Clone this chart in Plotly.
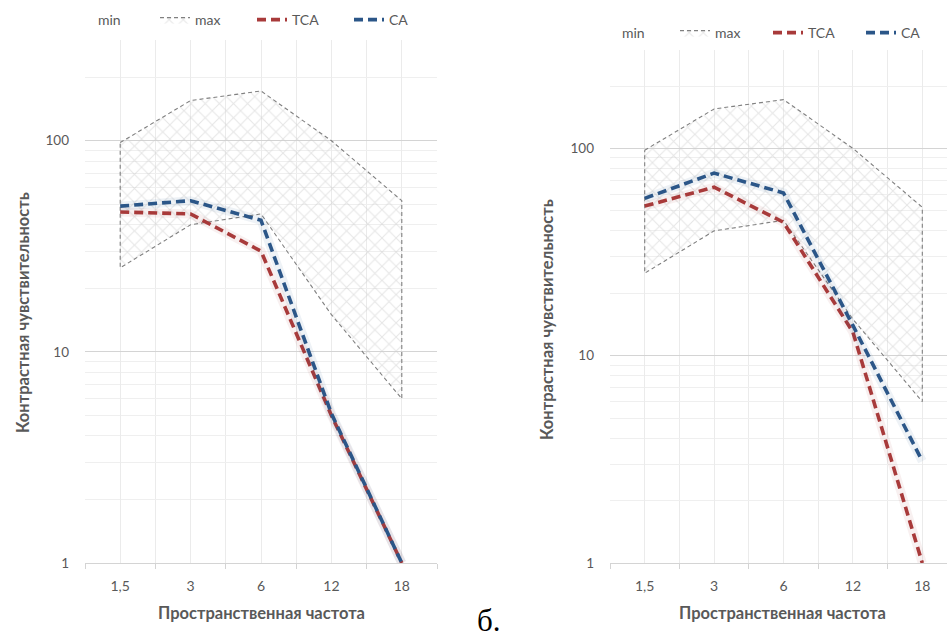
import math
import plotly.graph_objects as go

# ---------------- data ----------------
freq_labels = ["1,5", "3", "6", "12", "18"]
norm_max = [98, 155, 172, 100, 52]
norm_min = [25, 40, 45, 15, 6]
tca_left = [46, 45, 30, 5, 1]
ca_left = [49, 52, 42, 5.1, 1]
tca_right = [52.7, 65, 44, 13, 1]
ca_right = [57.4, 76, 61, 14, 3.1]
y_tick_vals = [1, 10, 100]
y_tick_text = ["1", "10", "100"]

W, H = 947, 637
GRAY_TXT = "#595959"
FONT = "Lato"
TCA_COL = "#a83a3a"
CA_COL = "#2b5688"

xs = list(range(len(freq_labels)))
boundaries = [i - 0.5 for i in range(len(freq_labels) + 1)]
minor_y = [m * 10 ** d for d in range(0, 3) for m in range(2, 10) if m * 10 ** d <= 300]

fig = go.Figure()


def add_panel(xref, yref, legend, tca, ca):
    # min (legend only)
    fig.add_trace(go.Scatter(x=[None], y=[None], mode="lines", name="min",
                             line=dict(width=0, color="rgba(0,0,0,0)"),
                             xaxis=xref, yaxis=yref, legend=legend, hoverinfo="skip"))
    # band between min and max
    px = xs + xs[::-1] + [xs[0]]
    py = norm_max + norm_min[::-1] + [norm_max[0]]
    fig.add_trace(go.Scatter(x=px, y=py, mode="lines", name="max", fill="toself",
                             fillcolor="rgba(0,0,0,0)",
                             fillpattern=dict(shape="x", size=10, solidity=0.2,
                                              fgcolor="#cdcdcd", bgcolor="rgba(255,255,255,0)"),
                             line=dict(color="#808080", width=1.1, dash="4px,3px"),
                             xaxis=xref, yaxis=yref, legend=legend))
    for vals, col, nm in ((tca, TCA_COL, "TCA"), (ca, CA_COL, "CA")):
        r, g, b = int(col[1:3], 16), int(col[3:5], 16), int(col[5:7], 16)
        fig.add_trace(go.Scatter(x=xs, y=vals, mode="lines", showlegend=False,
                                 line=dict(color=f"rgba({r},{g},{b},0.08)", width=9),
                                 xaxis=xref, yaxis=yref, hoverinfo="skip"))
        fig.add_trace(go.Scatter(x=xs, y=vals, mode="lines", name=nm,
                                 line=dict(color=col, width=3.6, dash="9px,5px"),
                                 legendwidth=(20 if nm == "CA" else None),
                                 xaxis=xref, yaxis=yref, legend=legend))


add_panel("x", "y", "legend", tca_left, ca_left)
add_panel("x2", "y2", "legend2", tca_right, ca_right)


def xaxis_style(domain, rng):
    return dict(domain=domain, range=rng, tickmode="array", tickvals=xs, ticktext=freq_labels,
                automargin=False,
                showgrid=True, gridcolor="#ebebeb", gridwidth=1, zeroline=False,
                showline=True, linecolor="#d4d4d4", linewidth=1, ticks="",
                ticklabelstandoff=10,
                tickfont=dict(family=FONT, size=14, color=GRAY_TXT),
                minor=dict(tickmode="array", tickvals=boundaries, ticks="outside", ticklen=5,
                           tickcolor="#d4d4d4", showgrid=True, gridcolor="#ebebeb"),
                fixedrange=True)


def yaxis_style(domain, anchor):
    return dict(domain=domain, type="log", range=[0, math.log10(300)], anchor=anchor,
                automargin=False,
                tickmode="array", tickvals=y_tick_vals, ticktext=y_tick_text,
                showgrid=True, gridcolor="#d4d4d4", gridwidth=1, zeroline=False,
                showline=False, ticks="", ticklabelstandoff=15,
                tickfont=dict(family=FONT, size=13.5, color=GRAY_TXT),
                minor=dict(tickmode="array", tickvals=minor_y, showgrid=True,
                           gridcolor="#efefef", ticks=""),
                fixedrange=True)


legend_common = dict(orientation="h", yanchor="middle", xanchor="left",
                     font=dict(family=FONT, size=14, color=GRAY_TXT),
                     bgcolor="rgba(0,0,0,0)", entrywidth=52, entrywidthmode="pixels",
                     traceorder="normal")

fig.update_layout(
    width=W, height=H, margin=dict(l=0, r=0, t=0, b=0, autoexpand=False),
    paper_bgcolor="white", plot_bgcolor="white",
    xaxis=xaxis_style([85 / W, 437 / W], [-0.5, 4.5]),
    xaxis2=dict(xaxis_style([610 / W, 1.0], [-0.5, (947 - 610) / 69.4 - 0.5]), anchor="y2"),
    yaxis=yaxis_style([1 - 563 / H, 1 - 40 / H], "x"),
    yaxis2=yaxis_style([1 - 563 / H, 1 - 49.5 / H], "x2"),
    legend=dict(legend_common, x=58 / W, y=1 - 20 / H),
    legend2=dict(legend_common, x=582 / W, y=1 - 33 / H, entrywidth=48),
    showlegend=True,
)

title_font = dict(family=FONT, size=16.5, color=GRAY_TXT)
ann = [
    dict(text="<b>Контрастная чувствительность</b>", x=23 / W, y=1 - 313 / H, textangle=-90),
    dict(text="<b>Контрастная чувствительность</b>", x=547 / W, y=1 - 320 / H, textangle=-90),
    dict(text="<b>Пространственная частота</b>", x=261 / W, y=1 - 613 / H),
    dict(text="<b>Пространственная частота</b>", x=782 / W, y=1 - 613 / H),
]
for a in ann:
    fig.add_annotation(xref="paper", yref="paper", showarrow=False, font=title_font,
                       xanchor="center", yanchor="middle", **a)
fig.add_annotation(xref="paper", yref="paper", showarrow=False, text="б.",
                   x=489 / W, y=1 - 620 / H, xanchor="center", yanchor="middle",
                   font=dict(family="Liberation Serif", size=31, color="black"))

fig.write_html("out.html", config={"displayModeBar": False},
               post_script="document.body.style.margin='0';document.body.style.overflow='hidden';")
